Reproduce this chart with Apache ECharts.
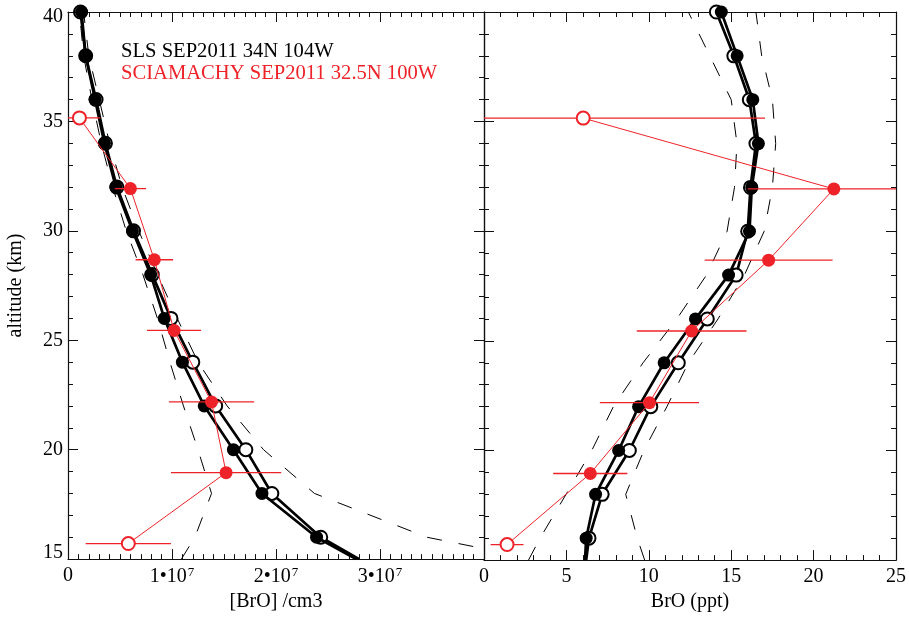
<!DOCTYPE html>
<html>
<head>
<meta charset="utf-8">
<script src="https://cdn.jsdelivr.net/npm/echarts@6/dist/echarts.min.js"></script>
<style>
  html, body { margin: 0; padding: 0; background: #fff; }
  #chart { width: 909px; height: 617px; }
</style>
</head>
<body>
<div id="chart"></div>
<script>
// ---- SLS balloon profiles (two retrievals), altitude in km ----
const ALT_SLS = [15, 16, 18, 20, 22, 24, 26, 28, 30, 32, 34, 36, 38, 40];
// number density, molecules / cm3
const SLS_DENS_A = [2.77e7, 2.39e7, 1.865e7, 1.59e7, 1.31e7, 1.10e7, 0.926e7, 0.795e7, 0.62e7, 0.46e7, 0.35e7, 0.26e7, 0.17e7, 0.13e7];
const SLS_DENS_B = [2.80e7, 2.43e7, 1.96e7, 1.71e7, 1.42e7, 1.20e7, 0.99e7, 0.81e7, 0.63e7, 0.47e7, 0.36e7, 0.27e7, 0.17e7, 0.12e7];
// mixing ratio, ppt
const SLS_PPT_A = [6.13, 6.2, 6.77, 8.17, 9.38, 10.93, 12.83, 14.84, 16.11, 16.25, 16.65, 16.31, 15.36, 14.4];
const SLS_PPT_B = [6.2, 6.37, 7.17, 8.82, 10.12, 11.79, 13.55, 15.3, 16.0, 16.17, 16.5, 16.1, 15.16, 14.1];

// ---- uncertainty envelope (dashed) ----
const ALT_ENV = [15, 16, 18, 20, 22, 24, 26, 28, 30, 32, 34, 36, 38, 40];
const DENS_ENV_LO = [1.09e7, 1.22e7, 1.38e7, 1.25e7, 1.11e7, 0.98e7, 0.86e7, 0.72e7, 0.56e7, 0.43e7, 0.32e7, 0.23e7, 0.15e7, 0.11e7];
const DENS_ENV_HI = [4.5e7, 3.45e7, 2.37e7, 1.88e7, 1.53e7, 1.25e7, 1.05e7, 0.86e7, 0.68e7, 0.52e7, 0.40e7, 0.30e7, 0.20e7, 0.15e7];
const PPT_ENV_LO = [2.7, 3.4, 4.98, 6.54, 7.85, 9.65, 11.7, 13.5, 14.75, 15.2, 15.35, 15.0, 13.7, 12.4];
const PPT_ENV_HI = [9.75, 9.3, 8.6, 9.7, 11.1, 12.4, 14.2, 15.8, 17.0, 17.5, 17.7, 17.5, 16.85, 16.5];

// ---- SCIAMACHY limb retrieval ----
const ALT_SCIA = [35.16, 31.93, 28.68, 25.45, 22.18, 18.95, 15.71];
const SCIA_DENS = [0.11e7, 0.60e7, 0.83e7, 1.02e7, 1.38e7, 1.52e7, 0.58e7];
const SCIA_DENS_ERR = [0.20e7, 0.15e7, 0.18e7, 0.26e7, 0.41e7, 0.53e7, 0.41e7];
const SCIA_PPT = [6.02, 21.23, 17.27, 12.6, 10.04, 6.45, 1.4];
const SCIA_PPT_ERR = [11.03, 5.23, 3.88, 3.33, 3.01, 2.25, 1.0];
const SCIA_RELIABLE = [false, true, true, true, true, true, false];

// ---- tick labels ----
const DENS_TICKS = { 0: '0', 1: '1•10{sup|7}', 2: '2•10{sup|7}', 3: '3•10{sup|7}', 4: '' };
const ALT_TICKS = { 15: '{low|15}', 20: '20', 25: '25', 30: '30', 35: '35', 40: '{high|40}' };

const FONT = 'Liberation Serif';
const RED = '#ee2329';
const BLACK = '#000';

const chart = echarts.init(document.getElementById('chart'), null, { renderer: 'canvas' });

function pairs(xs, ys, noSymbolFirst) {
  return xs.map((x, i) => {
    const item = { value: [x, ys[i]] };
    if (noSymbolFirst && i === 0) item.symbol = 'none';
    return item;
  });
}

function profile(name, xIdx, yIdx, xs, filled, z) {
  return {
    name, type: 'line', xAxisIndex: xIdx, yAxisIndex: yIdx,
    data: pairs(xs, ALT_SLS, true),
    symbol: filled ? 'circle' : 'emptyCircle',
    symbolSize: 13,
    showAllSymbol: true,
    lineStyle: { color: BLACK, width: 2.7 },
    itemStyle: { color: BLACK, borderColor: BLACK, borderWidth: filled ? 0 : 1.5 },
    z, animation: false, silent: true
  };
}

function envelope(xIdx, yIdx, xs) {
  return {
    type: 'line', xAxisIndex: xIdx, yAxisIndex: yIdx,
    data: pairs(xs, ALT_ENV, false),
    symbol: 'none',
    lineStyle: { color: BLACK, width: 1, type: [15, 17] },
    z: 1, animation: false, silent: true
  };
}

function sciaLine(xIdx, yIdx, xs) {
  return {
    type: 'line', xAxisIndex: xIdx, yAxisIndex: yIdx,
    data: xs.map((x, i) => ({
      value: [x, ALT_SCIA[i]],
      symbol: SCIA_RELIABLE[i] ? 'circle' : 'emptyCircle',
      itemStyle: SCIA_RELIABLE[i]
        ? { color: RED, borderColor: RED, borderWidth: 0 }
        : { color: RED, borderColor: RED, borderWidth: 1.8 }
    })),
    symbolSize: 13,
    showAllSymbol: true,
    lineStyle: { color: RED, width: 1 },
    z: 6, animation: false, silent: true
  };
}

function errorBars(xIdx, yIdx, xs, errs) {
  return {
    type: 'custom', xAxisIndex: xIdx, yAxisIndex: yIdx,
    data: xs.map((x, i) => [x - errs[i], x + errs[i], ALT_SCIA[i]]),
    encode: { x: [0, 1], y: 2 },
    renderItem(params, api) {
      const a = api.coord([api.value(0), api.value(2)]);
      const b = api.coord([api.value(1), api.value(2)]);
      const cs = params.coordSys;
      const x1 = Math.max(cs.x, Math.min(cs.x + cs.width, a[0]));
      const x2 = Math.max(cs.x, Math.min(cs.x + cs.width, b[0]));
      return {
        type: 'line',
        shape: { x1, y1: a[1], x2, y2: b[1] },
        style: { stroke: RED, lineWidth: 1.3 }
      };
    },
    z: 5, animation: false, silent: true
  };
}

const axisLine = { show: true, onZero: false, lineStyle: { color: '#111', width: 1.2 } };
const tickStyle = { color: '#111', width: 1 };

function xAxis(gridIndex, position, min, max, interval, minorSplit, labels) {
  return {
    type: 'value', gridIndex, position, min, max, interval,
    axisLine,
    axisTick: { show: true, inside: true, length: 10, lineStyle: tickStyle },
    minorTick: { show: true, splitNumber: minorSplit, length: 5, lineStyle: tickStyle },
    splitLine: { show: false },
    axisLabel: labels || { show: false }
  };
}

function yAxis(gridIndex, position, labels) {
  return {
    type: 'value', gridIndex, position, min: 15, max: 40, interval: 5,
    axisLine,
    axisTick: { show: true, inside: true, length: 10, lineStyle: tickStyle },
    minorTick: { show: true, splitNumber: 5, length: 5, lineStyle: tickStyle },
    splitLine: { show: false },
    axisLabel: labels || { show: false }
  };
}

const FS = 20;
const labelBase = { show: true, fontFamily: FONT, fontSize: FS, color: BLACK, margin: 7 };
const nameStyle = { fontFamily: FONT, fontSize: FS, color: BLACK };

const option = {
  backgroundColor: '#fff',
  animation: false,
  grid: [
    { left: 68, top: 12, width: 416, height: 554 },
    { left: 484, top: 12, width: 415, height: 554 }
  ],
  xAxis: [
    Object.assign(xAxis(0, 'bottom', 0, 4e7, 1e7, 10, Object.assign({}, labelBase, {
      formatter: v => DENS_TICKS[Math.round(v / 1e7)],
      rich: { sup: { fontFamily: FONT, fontSize: 13, verticalAlign: 'top', padding: [0, 0, 9, 1] } }
    })), { name: '[BrO] /cm3', nameLocation: 'middle', nameGap: 30, nameTextStyle: nameStyle }),
    xAxis(0, 'top', 0, 4e7, 1e7, 10),
    Object.assign(xAxis(1, 'bottom', 0, 25, 5, 5, Object.assign({}, labelBase)),
      { name: 'BrO (ppt)', nameLocation: 'middle', nameGap: 30, nameTextStyle: nameStyle }),
    xAxis(1, 'top', 0, 25, 5, 5)
  ],
  yAxis: [
    Object.assign(yAxis(0, 'left', Object.assign({}, labelBase, {
      margin: 5,
      formatter: v => ALT_TICKS[Math.round(v)],
      rich: {
        low: { fontFamily: FONT, fontSize: FS, padding: [0, 0, 12, 0] },
        high: { fontFamily: FONT, fontSize: FS, padding: [10, 0, 0, 0] }
      }
    })), { name: 'altitude (km)', nameLocation: 'middle', nameGap: 42, nameRotate: 90, nameTextStyle: nameStyle }),
    yAxis(0, 'right'),
    yAxis(1, 'left'),
    yAxis(1, 'right')
  ],
  series: [
    envelope(0, 0, DENS_ENV_LO),
    envelope(0, 0, DENS_ENV_HI),
    envelope(2, 2, PPT_ENV_LO),
    envelope(2, 2, PPT_ENV_HI),
    profile('SLS open', 0, 0, SLS_DENS_B, false, 2),
    profile('SLS filled', 0, 0, SLS_DENS_A, true, 3),
    profile('SLS open', 2, 2, SLS_PPT_B, false, 2),
    profile('SLS filled', 2, 2, SLS_PPT_A, true, 3),
    errorBars(0, 0, SCIA_DENS, SCIA_DENS_ERR),
    errorBars(2, 2, SCIA_PPT, SCIA_PPT_ERR),
    sciaLine(0, 0, SCIA_DENS),
    sciaLine(2, 2, SCIA_PPT)
  ],
  graphic: [
    { type: 'text', left: 121, top: 41,
      style: { text: 'SLS SEP2011 34N 104W', fontFamily: FONT, fontSize: 20.6, fill: BLACK } },
    { type: 'text', left: 121, top: 63,
      style: { text: 'SCIAMACHY SEP2011 32.5N 100W', fontFamily: FONT, fontSize: 20.6, fill: RED } }
  ]
};

chart.setOption(option);
</script>
</body>
</html>
